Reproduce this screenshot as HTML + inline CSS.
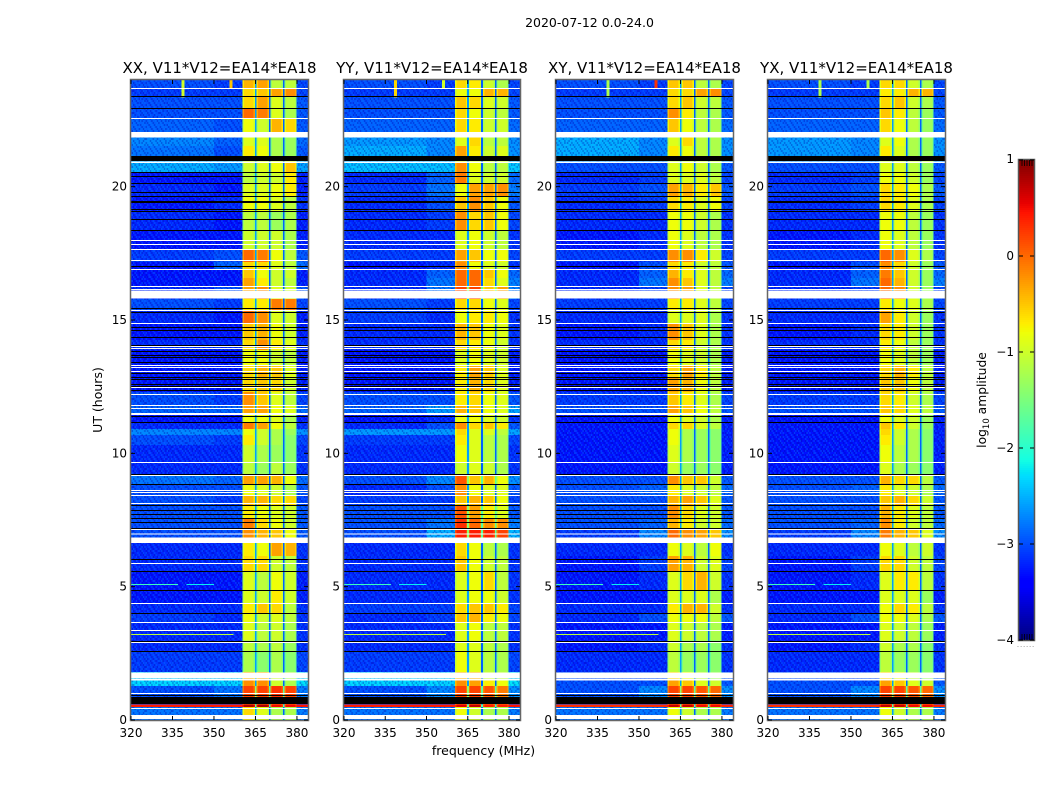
<!DOCTYPE html>
<html lang="en">
<head>
<meta charset="utf-8">
<title>2020-07-12 0.0-24.0</title>
<style>
html,body{margin:0;padding:0;background:#fff;}
svg{display:block;font-family:"DejaVu Sans","Liberation Sans",sans-serif;fill:#000;}
</style>
</head>
<body>
<svg id="chart" xmlns="http://www.w3.org/2000/svg" width="1050" height="800" viewBox="0 0 1050 800">
<rect x="0" y="0" width="1050" height="800" fill="#fff"/>
<text x="589.5" y="27" font-size="12.5" text-anchor="middle">2020-07-12 0.0-24.0</text>
<text transform="translate(102,400) rotate(-90)" font-size="12.5" text-anchor="middle">UT (hours)</text>
<text x="483.5" y="755" font-size="12.5" text-anchor="middle">frequency (MHz)</text>
<text transform="translate(986,400) rotate(-90)" font-size="12.3" text-anchor="middle">log<tspan font-size="8.5" dy="3">10</tspan><tspan dy="-3"> amplitude</tspan></text>
<text x="1026" y="647" font-size="7" fill="#777" text-anchor="middle" letter-spacing="0.8">......</text>
</svg>
<script>
// ---------- shared axis values ----------
const panelTitles = ['XX, V11*V12=EA14*EA18', 'YY, V11*V12=EA14*EA18', 'XY, V11*V12=EA14*EA18', 'YX, V11*V12=EA14*EA18'];
const xTickLabels = [320, 335, 350, 365, 380];
const yTickLabels = [0, 5, 10, 15, 20];
const colorbarTickValues = [-4, -3, -2, -1, 0, 1];

// ---------- time-band edges (UT hours, top to bottom) ----------
const rowEdgeHours = [24, 23.7, 23.4, 22.95, 22.58, 22.05, 21.53, 21.15, 20.89, 20.55, 20.1, 19.65, 19.05, 18.38, 17.63, 17.18, 16.88, 16.58, 16.28, 15.79, 15.38, 14.89, 14.25, 13.88, 13.31, 12.83, 12.3, 11.81, 11.44, 11.18, 10.91, 10.69, 10.31, 9.68, 9.15, 8.85, 8.44, 8.06, 7.58, 7.2, 6.64, 6.15, 5.59, 4.88, 4.39, 4.01, 3.68, 3, 2.59, 1.8, 1.5, 1.28, 0.87, 0.58, 0.49, 0.19, 0];

// ---------- frequency columns (MHz) ----------
const backgroundBandsMHz = [[320, 350], [350, 360.4]];
const subbandsMHz = [[360.4, 364.8], [365.4, 369.9], [370.5, 374.9], [375.5, 379.9]];
const gapBandsMHz = [[364.8, 365.4], [369.9, 370.5], [374.9, 375.5]];
const gapLevels = [-2.6, -2.9, -2.9];
const rightBandMHz = [379.9, 384];

// ---------- log10 amplitude per band: [320-350, 350-360, sub1, sub2, sub3, sub4] ----------
const xxLevels = [
[-3.0,-3.1,-0.4,-0.3,-1.1,-1.1],[-3.1,-3.1,-0.6,-0.5,-0.3,-0.2],[-3.0,-3.0,-0.6,-0.3,-0.9,-1.1],[-3.0,-3.0,0.0,-0.1,-0.9,-1.2],
[-2.9,-3.0,-0.8,-1.0,-0.4,-0.6],[-2.7,-2.9,-0.9,-0.9,-1.2,-1.3],[-2.8,-3.0,-0.7,-0.8,-1.2,-1.3],[-2.5,-2.5,-0.9,-0.9,-0.9,-0.9],
[-2.5,-2.6,-1.0,-0.9,-0.8,-0.5],[-3.3,-3.3,-1.1,-1.0,-1.0,-0.7],[-3.2,-3.3,-0.9,-0.9,-0.8,-0.7],[-3.3,-3.2,-0.8,-0.8,-0.9,-1.1],
[-3.2,-3.3,-1.1,-1.1,-1.3,-1.2],[-3.3,-3.3,-1.0,-1.0,-1.0,-1.2],[-3.1,-3.0,0.0,-0.1,-0.8,-1.1],[-3.3,-2.9,-0.6,-0.6,-0.9,-1.1],
[-3.3,-3.3,-0.5,-0.8,-1.0,-1.0],[-3.3,-3.3,-0.3,-0.7,-1.0,-1.1],[-3.2,-3.0,-0.3,-0.2,-0.9,-1.0],[-3.0,-3.1,-0.7,-0.7,-0.1,-0.1],
[-3.2,-3.3,0.0,-0.2,-0.9,-1.0],[-3.3,-3.3,-0.5,-0.4,-0.8,-1.0],[-3.2,-3.2,-0.6,-0.2,-0.7,-0.9],[-3.3,-3.3,-0.8,-0.8,-1.0,-1.1],
[-3.3,-3.3,-0.6,-0.4,-0.5,-0.9],[-3.3,-3.3,-0.6,-0.5,-0.6,-1.0],[-3.0,-3.1,-0.2,-0.5,-0.9,-1.1],[-2.9,-2.9,-0.3,-0.3,-0.8,-0.9],
[-3.3,-3.3,-0.8,-0.8,-0.9,-1.2],[-3.2,-3.2,-0.1,-0.3,-0.8,-1.1],[-2.7,-2.7,-0.8,-1.0,-1.2,-1.3],[-3.0,-3.1,-0.7,-1.0,-1.2,-1.4],
[-3.2,-3.2,-1.0,-1.2,-1.3,-1.4],[-3.2,-3.2,-1.1,-1.3,-1.1,-1.3],[-2.8,-2.9,-0.3,-0.3,-0.4,-0.8],[-3.0,-3.0,-0.8,-0.9,-1.0,-1.2],
[-3.0,-3.1,-0.4,-0.4,-0.6,-0.6],[-3.0,-3.0,-0.7,-0.8,-0.9,-1.0],[-3.0,-3.0,-0.1,-0.6,-0.8,-1.0],[-3.0,-3.0,-0.2,-0.4,-0.5,-0.8],
[-3.2,-3.2,-0.7,-0.8,-0.3,-0.4],[-3.2,-3.2,-0.6,-0.6,-1.0,-1.1],[-3.3,-3.3,-0.9,-1.1,-0.8,-1.0],[-3.3,-3.3,-0.9,-1.0,-0.7,-1.0],
[-3.2,-3.2,-0.7,-0.5,-0.6,-1.1],[-3.1,-3.2,-0.8,-1.0,-0.9,-1.1],[-3.2,-3.2,-0.9,-1.1,-1.0,-1.2],[-3.2,-3.2,-1.1,-1.2,-1.1,-1.3],
[-3.1,-3.1,-1.2,-1.4,-1.2,-1.4],[-2.3,-2.3,-0.4,-0.4,-1.0,-1.2],[-2.3,-2.3,-0.2,-0.2,-1.0,-1.2],[-3.0,-2.8,0.2,0.2,0.3,0.2],
[-3.0,-3.0,0.0,0.0,0.0,0.0],[0.4,0.4,0.8,0.8,0.5,0.5],[-2.8,-2.8,-0.6,-0.9,-1.2,-1.2],[-2.8,-2.8,-0.7,-0.9,-1.2,-1.2]
];
const yyLevels = [
[-3.0,-3.1,-0.6,-0.7,-1.0,-1.2],[-3.1,-3.1,-0.8,-0.8,-0.4,-0.4],[-3.0,-3.0,-0.5,-0.6,-0.9,-1.0],[-3.0,-3.0,-0.6,-0.8,-1.0,-1.1],
[-2.9,-2.9,-0.6,-0.7,-1.0,-1.0],[-2.6,-2.7,-0.9,-0.6,-1.1,-1.1],[-2.5,-2.7,-0.3,-0.7,-1.0,-0.9],[-2.5,-2.5,-0.9,-0.9,-0.9,-0.9],
[-2.4,-2.4,-0.2,-0.8,-1.1,-1.1],[-3.2,-2.9,-0.1,-0.9,-1.0,-1.0],[-3.1,-2.8,-0.8,-0.3,-0.3,-0.2],[-3.2,-3.0,-0.5,-0.2,-0.5,-0.8],
[-3.2,-3.1,-0.2,-0.6,-0.5,-0.8],[-3.2,-3.2,-0.9,-0.8,-1.0,-1.1],[-3.1,-3.1,-0.3,-0.5,-0.8,-0.8],[-3.3,-3.2,-0.2,-0.8,-0.9,-1.0],
[-3.2,-2.9,0.0,0.0,-0.5,-0.8],[-3.2,-2.8,0.0,0.0,-0.6,-0.9],[-3.2,-2.8,0.2,0.2,-0.5,-0.3],[-3.0,-3.1,-0.6,-0.6,-0.8,-0.9],
[-3.1,-3.2,-0.8,-0.7,-0.7,-0.8],[-3.2,-3.2,-0.4,-0.5,-0.8,-0.9],[-3.2,-3.2,-0.6,-0.7,-0.8,-1.0],[-3.3,-3.3,-0.9,-0.8,-0.9,-1.0],
[-3.3,-3.3,-0.7,-0.3,-0.5,-0.9],[-3.3,-3.3,-0.7,-0.4,-0.6,-0.9],[-3.0,-3.0,-0.7,-0.6,-0.8,-0.9],[-2.9,-2.6,-0.4,-0.5,-0.8,-0.9],
[-3.3,-3.2,-0.8,-0.8,-0.9,-1.0],[-3.2,-3.0,-0.2,-0.6,-0.5,-0.7],[-2.6,-2.6,-0.6,-0.9,-0.9,-1.1],[-3.1,-3.1,-0.7,-0.9,-1.1,-1.2],
[-3.2,-3.2,-0.8,-0.9,-1.1,-1.2],[-3.2,-3.2,-1.0,-0.9,-1.0,-1.2],[-3.0,-2.7,0.1,-0.5,-0.4,-0.8],[-3.2,-3.0,-0.2,-0.8,-0.9,-0.9],
[-3.1,-3.1,-0.5,-0.4,-0.5,-0.8],[-3.0,-3.0,0.1,-0.3,-0.7,-0.9],[-3.0,-2.8,0.3,0.0,-0.2,-0.2],[-3.0,-2.5,0.4,0.4,0.4,0.2],
[-3.2,-3.2,-0.6,-0.8,-1.1,-1.2],[-3.2,-3.2,-0.5,-0.8,-1.0,-1.1],[-3.2,-3.2,-0.9,-0.8,-0.6,-1.1],[-3.2,-3.2,-0.9,-0.8,-0.8,-1.0],
[-3.1,-3.1,-0.6,-0.5,-0.5,-0.7],[-3.2,-3.1,-0.5,-0.4,-0.7,-0.8],[-3.2,-3.2,-0.9,-0.8,-1.1,-1.1],[-3.2,-3.2,-0.9,-0.9,-1.1,-1.2],
[-3.1,-3.1,-0.8,-0.9,-1.1,-1.2],[-2.3,-2.3,-0.4,-0.4,-1.0,-1.1],[-2.3,-2.3,-0.2,-0.3,-0.7,-0.8],[-3.0,-2.7,0.2,0.2,0.1,-0.1],
[-3.0,-3.0,0.0,0.0,0.0,0.0],[0.4,0.4,0.6,0.7,0.4,0.4],[-2.8,-2.8,-0.8,-1.0,-1.2,-1.2],[-2.8,-2.8,-0.8,-1.0,-1.2,-1.2]
];
const xyLevels = [
[-3.0,-3.1,-0.5,-0.5,-1.1,-1.2],[-3.1,-3.1,-0.6,-0.6,-0.3,-0.2],[-3.0,-3.0,-0.6,-0.5,-1.0,-1.1],[-3.0,-3.0,-0.2,-0.7,-1.1,-1.2],
[-2.9,-2.9,-0.5,-0.8,-1.1,-1.2],[-2.5,-2.7,-0.9,-0.6,-1.1,-1.2],[-2.5,-2.7,-0.7,-0.8,-1.1,-1.2],[-2.6,-2.6,-1.0,-1.0,-1.0,-1.0],
[-3.0,-3.0,-0.9,-0.8,-1.0,-1.2],[-3.2,-3.1,-0.9,-0.9,-0.9,-1.1],[-3.1,-3.0,-0.3,-0.4,-0.7,-0.5],[-3.2,-3.1,-0.6,-0.7,-0.9,-0.8],
[-3.2,-3.2,-0.8,-0.8,-1.0,-1.2],[-3.3,-3.2,-0.8,-0.9,-1.1,-1.2],[-3.1,-3.1,-0.2,-0.2,-0.7,-1.0],[-3.3,-3.0,-0.6,-0.7,-1.0,-1.1],
[-3.2,-2.9,-0.4,-0.7,-0.9,-1.1],[-3.2,-2.8,-0.2,-0.5,-0.9,-1.1],[-3.2,-3.1,-0.2,-0.3,-0.9,-1.1],[-3.1,-3.1,-0.7,-0.7,-0.9,-1.1],
[-3.2,-3.2,-0.9,-0.9,-0.9,-1.2],[-3.3,-3.2,-0.2,-0.5,-0.9,-1.2],[-3.2,-3.2,-0.6,-0.7,-1.0,-1.2],[-3.3,-3.3,-0.8,-0.9,-1.0,-1.2],
[-3.3,-3.3,-0.6,-0.3,-0.7,-1.1],[-3.3,-3.3,-0.3,-0.4,-0.8,-1.1],[-3.1,-3.1,-0.5,-0.7,-0.9,-1.2],[-3.0,-3.0,-0.3,-0.5,-0.8,-1.1],
[-3.3,-3.3,-0.8,-0.9,-1.0,-1.2],[-3.3,-3.3,-0.6,-0.6,-0.9,-1.1],[-3.3,-3.3,-0.8,-1.2,-1.3,-1.4],[-3.3,-3.3,-0.8,-1.2,-1.3,-1.4],
[-3.3,-3.3,-0.9,-1.2,-1.3,-1.4],[-3.3,-3.3,-1.0,-1.3,-1.3,-1.4],[-3.0,-3.0,-0.2,-0.5,-0.5,-1.0],[-3.0,-2.9,-0.7,-0.9,-1.0,-1.1],
[-3.0,-3.0,-0.4,-0.3,-0.5,-0.9],[-3.0,-3.0,-0.2,-0.6,-0.9,-1.0],[-3.0,-2.9,-0.4,-0.7,-1.0,-1.0],[-3.1,-2.7,0.0,-0.2,-0.3,-0.5],
[-3.2,-3.2,-0.8,-0.9,-1.1,-0.8],[-3.3,-3.1,-0.3,-0.4,-1.0,-0.9],[-3.3,-3.2,-0.9,-0.6,-0.4,-1.0],[-3.3,-3.3,-0.9,-0.9,-0.9,-1.2],
[-3.2,-3.2,-0.7,-0.4,-0.4,-1.0],[-3.2,-3.0,-0.8,-0.8,-0.8,-1.1],[-3.3,-3.3,-0.9,-1.0,-1.1,-1.2],[-3.3,-3.2,-1.0,-1.2,-1.2,-1.4],
[-3.2,-3.2,-1.1,-1.3,-1.3,-1.4],[-3.0,-3.0,-0.6,-0.8,-1.1,-1.3],[-3.0,-3.0,-0.3,-0.5,-0.9,-1.0],[-3.0,-2.7,0.2,0.2,0.1,0.0],
[-3.0,-3.0,0.0,0.0,0.0,0.0],[0.3,0.3,0.7,0.7,0.5,0.5],[-2.8,-2.8,-0.8,-1.0,-1.2,-1.2],[-2.8,-2.8,-0.8,-1.0,-1.2,-1.2]
];
const yxLevels = [
[-3.0,-3.1,-0.6,-0.6,-1.0,-1.2],[-3.1,-3.1,-0.7,-0.7,-0.4,-0.4],[-3.0,-3.0,-0.6,-0.5,-1.0,-1.2],[-3.0,-3.0,-0.5,-0.7,-1.1,-1.3],
[-2.9,-2.9,-0.6,-0.8,-1.1,-1.3],[-2.6,-2.7,-0.9,-0.8,-1.2,-1.3],[-2.6,-2.7,-0.7,-0.9,-1.2,-1.3],[-2.6,-2.6,-1.0,-1.0,-1.0,-1.0],
[-3.0,-3.0,-0.9,-0.9,-1.1,-1.3],[-3.2,-3.1,-0.8,-0.8,-1.0,-1.3],[-3.1,-3.0,-0.6,-0.7,-0.8,-1.2],[-3.2,-3.1,-0.6,-0.7,-0.9,-1.2],
[-3.2,-3.2,-0.8,-0.8,-1.1,-1.3],[-3.3,-3.2,-0.8,-0.9,-1.1,-1.3],[-3.1,-3.1,0.0,-0.2,-0.9,-1.2],[-3.3,-3.0,-0.2,-0.6,-1.0,-1.3],
[-3.2,-2.9,-0.1,-0.5,-1.0,-1.3],[-3.2,-2.8,0.0,-0.4,-1.0,-1.3],[-3.2,-3.1,0.0,-0.2,-1.0,-1.3],[-3.1,-3.1,-0.7,-0.8,-0.9,-1.2],
[-3.2,-3.2,-0.3,-0.7,-1.0,-1.3],[-3.3,-3.2,-0.6,-0.7,-1.0,-1.3],[-3.2,-3.2,-0.7,-0.8,-1.1,-1.3],[-3.3,-3.3,-0.8,-0.9,-1.1,-1.3],
[-3.3,-3.3,-0.6,-0.4,-0.7,-1.1],[-3.3,-3.3,-0.5,-0.5,-0.8,-1.1],[-3.1,-3.1,-0.6,-0.7,-1.0,-1.2],[-3.0,-3.0,-0.5,-0.6,-0.9,-1.1],
[-3.3,-3.3,-0.8,-0.9,-1.0,-1.3],[-3.3,-3.3,-0.5,-0.7,-1.0,-1.3],[-3.3,-3.3,-0.6,-1.0,-1.2,-1.4],[-3.3,-3.3,-0.7,-1.0,-1.2,-1.4],
[-3.3,-3.3,-0.8,-1.1,-1.2,-1.4],[-3.3,-3.3,-0.9,-1.2,-1.3,-1.4],[-3.0,-3.0,-0.4,-0.6,-0.6,-1.1],[-3.0,-2.9,-0.7,-0.9,-1.0,-1.2],
[-3.0,-3.0,-0.5,-0.4,-0.6,-1.0],[-3.0,-3.0,-0.4,-0.7,-0.9,-1.1],[-3.0,-2.9,-0.2,-0.7,-1.0,-1.1],[-3.1,-2.7,-0.1,-0.4,-0.5,-0.9],
[-3.2,-3.2,-0.8,-0.9,-1.1,-1.0],[-3.3,-3.1,-0.6,-0.6,-1.0,-1.1],[-3.3,-3.2,-0.9,-0.7,-0.7,-1.1],[-3.3,-3.3,-0.9,-0.9,-0.9,-1.3],
[-3.2,-3.2,-0.8,-0.6,-0.7,-1.1],[-3.2,-3.0,-0.8,-0.8,-0.9,-1.2],[-3.3,-3.3,-0.9,-1.0,-1.1,-1.3],[-3.3,-3.2,-1.0,-1.2,-1.2,-1.4],
[-3.2,-3.2,-1.1,-1.3,-1.3,-1.4],[-3.0,-3.0,-0.6,-0.8,-1.1,-1.3],[-3.0,-3.0,-0.3,-0.5,-0.9,-1.0],[-3.0,-2.7,0.2,0.2,0.1,0.0],
[-3.0,-3.0,0.0,0.0,0.0,0.0],[0.3,0.3,0.7,0.7,0.5,0.5],[-2.8,-2.8,-0.8,-1.0,-1.2,-1.2],[-2.8,-2.8,-0.8,-1.0,-1.2,-1.2]
];

// ---------- flagged (white) and zero-amplitude (black) time ranges, UT hours ----------
const whiteLineHours = [23.69, 22.56, 17.99, 17.86, 17.66, 17.24, 16.9, 16.26, 16.15, 15.38, 14.88, 14.04, 13.94, 13.32, 13.23, 13.09, 12.49, 12.24, 11.81, 11.69, 9.66, 9.18, 8.63, 8.55, 8.43, 8.13, 7.15, 5.88, 4.39, 3.66, 3.36, 2.91, 1, 0.44];
const whiteBlockHours = [[21.85, 22.05], [20.89, 20.95], [15.8, 16.1], [11.44, 11.52], [6.95, 7], [6.63, 6.84], [1.56, 1.79], [1.49, 1.53], [0.04, 0.19]];
const blackLineHours = [23.4, 22.94, 20.56, 20.41, 20.13, 19.81, 19.64, 19.17, 19.08, 18.78, 18.36, 17.04, 15.44, 15.29, 14.75, 14.61, 14.35, 14.06, 13.85, 13.7, 13.6, 13.43, 13.01, 12.87, 12.79, 12.61, 12.53, 12.39, 11.41, 11.18, 9.23, 8.84, 8.06, 7.86, 7.71, 7.58, 7.41, 7.2, 6.03, 5.58, 4.88, 4, 2.97, 2.59, 0.93];
const blackBlockHours = [[20.97, 21.15], [19.39, 19.47], [0.6, 0.87]];

// ---------- narrow RFI features ----------
const spikeFreqs = [338.8, 356.1];
const spikeHours = [[23.35, 24], [23.7, 24]];
const spikeLevelsByPanel = [[-1.0, -0.5], [-0.6, -1.0], [-1.2, 0.3], [-1.2, -1.2]];
const rfiLineHours = [3.21, 5.09, 5.09];
const rfiLineFreqs = [[320, 357], [320, 337], [340, 350]];
const rfiLineLevels = [-1.1, -1.9, -2.2];

// ---------- colour scale and background texture ----------
const colorLimits = [-4, 1];
const speckleTile = [
[0, 1,-1, 0, 0,-1, 1, 0, 0,-1, 0, 1,-1, 0, 1, 0,-1, 0, 1],
[-1,0, 0, 1, 0, 0,-1, 1, 0, 1,-1, 0, 0,-1, 0, 1, 0, 0,-1],
[1,-1, 0, 0, 1,-1, 0,-1, 1, 0, 0,-1, 1, 0, 0,-1, 1, 0, 0],
[0, 0, 1,-1, 0, 1, 0, 0,-1,-1, 1, 0, 0, 1,-1, 0, 0,-1, 1],
[-1,1, 0, 0,-1, 0, 1,-1, 0, 1, 0, 0,-1, 0, 1, 1,-1, 0, 0],
[0,-1, 1, 0,-1, 1,-1, 0, 0,-1, 0, 1, 0,-1, 0, 0, 1,-1, 1],
[1, 0,-1, 1, 0, 0, 0, 1,-1, 0,-1, 1, 1, 0,-1, 0, 0, 1,-1],
[0, 1, 0,-1, 0,-1, 1, 0, 1, 0, 0,-1, 0, 1, 0,-1, 1, 0, 0],
[-1,0, 1, 0, 1, 0,-1, 0, 0,-1, 1, 0,-1, 0, 1, 0,-1, 0, 1],
[0,-1, 0, 1,-1, 0, 1,-1, 1, 0, 0, 1, 0,-1, 0, 1, 0,-1, 0],
[1, 0,-1, 0, 0, 1, 0, 0,-1, 1,-1, 0, 1, 0,-1, 0, 1, 0,-1]
];

const panelLevels = [xxLevels, yyLevels, xyLevels, yxLevels];
const panelKeys = ['xx', 'yy', 'xy', 'yx'];
const panelLefts = [131, 344, 556, 768];
const panelRights = [308, 520, 733, 945];
const plotTop = 80, plotBottom = 720;
const cbLeft = 1019, cbRight = 1034, cbTop = 160, cbBottom = 640;

const svg = document.getElementById('chart');
const NS = 'http://www.w3.org/2000/svg';

function make(tag, attrs, parent) {
  const node = document.createElementNS(NS, tag);
  for (const k in attrs) node.setAttribute(k, attrs[k]);
  parent.appendChild(node);
  return node;
}
function lerpStops(stops, t) {
  for (let i = 1; i < stops.length; i++) {
    if (t <= stops[i][0]) {
      const a = stops[i - 1], b = stops[i];
      return a[1] + (b[1] - a[1]) * (t - a[0]) / (b[0] - a[0]);
    }
  }
  return stops[stops.length - 1][1];
}
const jetR = [[0, 0], [0.35, 0], [0.66, 1], [0.89, 1], [1, 0.5]];
const jetG = [[0, 0], [0.125, 0], [0.375, 1], [0.64, 1], [0.91, 0], [1, 0]];
const jetB = [[0, 0.5], [0.11, 1], [0.34, 1], [0.65, 0], [1, 0]];
function colorOf(v) {
  const t = Math.max(0, Math.min(1, (v - colorLimits[0]) / (colorLimits[1] - colorLimits[0])));
  const c = [jetR, jetG, jetB].map(s => Math.round(255 * lerpStops(s, t)));
  return 'rgb(' + c.join(',') + ')';
}
function yOf(h) { return plotBottom - h * (plotBottom - plotTop) / 24; }
function xOf(p, f) { return panelLefts[p] + (f - 320) * (panelRights[p] - panelLefts[p]) / 64; }

// speckle pattern built from the tile
const defs = make('defs', {}, svg);
const speckle = make('pattern', { id: 'speckle', patternUnits: 'userSpaceOnUse', x: 0, y: 0, width: 19 * 1.4, height: 11 * 2 }, defs);
speckleTile.forEach((line, r) => line.forEach((s, c) => {
  if (s !== 0) {
    make('rect', { x: c * 1.4, y: r * 2, width: 1.4, height: 2, fill: s < 0 ? 'rgba(0,0,170,0.35)' : 'rgba(0,130,255,0.35)' }, speckle);
  }
}));

panelTitles.forEach((title, p) => {
  const group = make('g', { 'shape-rendering': 'crispEdges' }, svg);
  
  
  const levels = panelLevels[p];

  levels.forEach((row, r) => {
    const y0 = yOf(rowEdgeHours[r]), y1 = yOf(rowEdgeHours[r + 1]);
    const addCell = (f0, f1, v) => {
      const x0 = xOf(p, f0), x1 = xOf(p, f1);
      const cell = make('rect', { x: x0, y: y0, width: x1 - x0, height: y1 - y0, fill: colorOf(v) }, group);
      
      
    };
    backgroundBandsMHz.forEach((b, i) => addCell(b[0], b[1], row[i]));
    addCell(rightBandMHz[0], rightBandMHz[1], row[1] + 0.05);
    subbandsMHz.forEach((b, i) => {
      const v = row[i + 2];
      addCell(b[0], b[0] + 0.5, v - 0.25);
      addCell(b[0] + 0.5, b[1] - 0.5, v);
      addCell(b[1] - 0.5, b[1], v - 0.25);
    });
    gapBandsMHz.forEach((b, i) => addCell(b[0], b[1], row[2] > 0 ? gapLevels[i] + 1.2 : gapLevels[i]));
  });

  // speckle over the background columns, leaving the red row clean
  [[320, 360.4], [380, 384]].forEach(b => {
    [[24, 0.87], [0.49, 0]].forEach(hr => {
      const tex = make('rect', { x: xOf(p, b[0]), y: yOf(hr[0]), width: xOf(p, b[1]) - xOf(p, b[0]), height: yOf(hr[1]) - yOf(hr[0]), fill: 'url(#speckle)' }, group);
      
      
    });
  });

  // RFI spikes and lines
  spikeFreqs.forEach((f, i) => {
    const spike = make('rect', { x: xOf(p, f) - 1.5, y: yOf(spikeHours[i][1]), width: 3, height: yOf(spikeHours[i][0]) - yOf(spikeHours[i][1]), fill: colorOf(spikeLevelsByPanel[p][i]) }, group);
    
    
  });
  rfiLineHours.forEach((h, i) => {
    const x0 = xOf(p, rfiLineFreqs[i][0]), x1 = xOf(p, rfiLineFreqs[i][1]);
    const line = make('rect', { x: x0, y: Math.round(yOf(h)), width: x1 - x0, height: 1, fill: colorOf(rfiLineLevels[i]) }, group);
    
    
  });

  // zero-amplitude and flagged rows
  const w = panelRights[p] - panelLefts[p];
  blackLineHours.forEach(h => {
    const bar = make('rect', { x: panelLefts[p], y: Math.round(yOf(h)), width: w, height: 1, fill: '#000' }, group);
    
    
  });
  blackBlockHours.forEach(b => {
    const bar = make('rect', { x: panelLefts[p], y: yOf(b[1]), width: w, height: yOf(b[0]) - yOf(b[1]), fill: '#000' }, group);
    
    
  });
  whiteLineHours.forEach(h => {
    const bar = make('rect', { x: panelLefts[p], y: Math.round(yOf(h)), width: w, height: 1, fill: '#fff' }, group);
    
    
  });
  whiteBlockHours.forEach(b => {
    const bar = make('rect', { x: panelLefts[p], y: yOf(b[1]), width: w, height: yOf(b[0]) - yOf(b[1]), fill: '#fff' }, group);
    
    
  });

  // frame
  const frame = make('rect', { x: panelLefts[p] - 0.5, y: plotTop - 0.5, width: w + 1, height: plotBottom - plotTop + 1, fill: 'none', stroke: '#666', 'stroke-width': 1.5 }, svg);
  
  

  // title
  const tt = make('text', { x: (panelLefts[p] + panelRights[p]) / 2, y: 73, 'font-size': 15, 'text-anchor': 'middle' }, svg);
  tt.textContent = title;
  
  

  // x ticks
  xTickLabels.forEach(f => {
    const x = xOf(p, f);
    const tb = make('line', { x1: x, x2: x, y1: plotBottom, y2: plotBottom - 4, stroke: '#000', 'stroke-width': 1 }, svg);
    
    
    const tu = make('line', { x1: x, x2: x, y1: plotTop, y2: plotTop + 4, stroke: '#000', 'stroke-width': 1 }, svg);
    
    
    const lab = make('text', { x: x, y: 737, 'font-size': 12, 'text-anchor': 'middle' }, svg);
    lab.textContent = String(f);
    
    
  });
  // y ticks
  yTickLabels.forEach(h => {
    const y = yOf(h);
    const tl = make('line', { x1: panelLefts[p], x2: panelLefts[p] + 4, y1: y, y2: y, stroke: '#000', 'stroke-width': 1 }, svg);
    
    
    const tr = make('line', { x1: panelRights[p], x2: panelRights[p] - 4, y1: y, y2: y, stroke: '#000', 'stroke-width': 1 }, svg);
    
    
    const lab = make('text', { x: panelLefts[p] - 4, y: y + 4, 'font-size': 12, 'text-anchor': 'end' }, svg);
    lab.textContent = String(h);
    
    
  });
});

// ---------- colorbar ----------
const cbGroup = make('g', { 'shape-rendering': 'crispEdges' }, svg);


const cbY = v => cbBottom - (v - colorLimits[0]) * (cbBottom - cbTop) / (colorLimits[1] - colorLimits[0]);
for (let py = cbTop; py < cbBottom; py += 2) {
  const v = colorLimits[0] + (cbBottom - py - 1) * (colorLimits[1] - colorLimits[0]) / (cbBottom - cbTop);
  const swatch = make('rect', { x: cbLeft, y: py, width: cbRight - cbLeft, height: 2, fill: colorOf(v) }, cbGroup);
  
  
}
const cbFrame = make('rect', { x: cbLeft - 0.5, y: cbTop - 0.5, width: cbRight - cbLeft + 1, height: cbBottom - cbTop + 1, fill: 'none', stroke: '#555', 'stroke-width': 1.5 }, svg);


colorbarTickValues.forEach(v => {
  const y = cbY(v);
  const a = make('line', { x1: cbLeft, x2: cbLeft + 4, y1: y, y2: y, stroke: '#000', 'stroke-width': 1 }, svg);
  
  
  const b = make('line', { x1: cbRight, x2: cbRight - 4, y1: y, y2: y, stroke: '#000', 'stroke-width': 1 }, svg);
  
  
  const lab = make('text', { x: 1014, y: y + 3 + (v === 1 ? 0 : 1), 'font-size': 12, 'text-anchor': 'end' }, svg);
  lab.textContent = v < 0 ? '\u2212' + Math.abs(v) : String(v);
  
  
});
for (let i = 0; i < 5; i++) {
  const x = cbLeft + 3 + i * 2.5;
  const top = make('line', { x1: x, x2: x, y1: cbTop, y2: cbTop + 6, stroke: '#000', 'stroke-width': 0.8 }, svg);
  
  
  const bot = make('line', { x1: x, x2: x, y1: cbBottom, y2: cbBottom - 6, stroke: '#000', 'stroke-width': 0.8 }, svg);
  
  
}
</script>
</body>
</html>
